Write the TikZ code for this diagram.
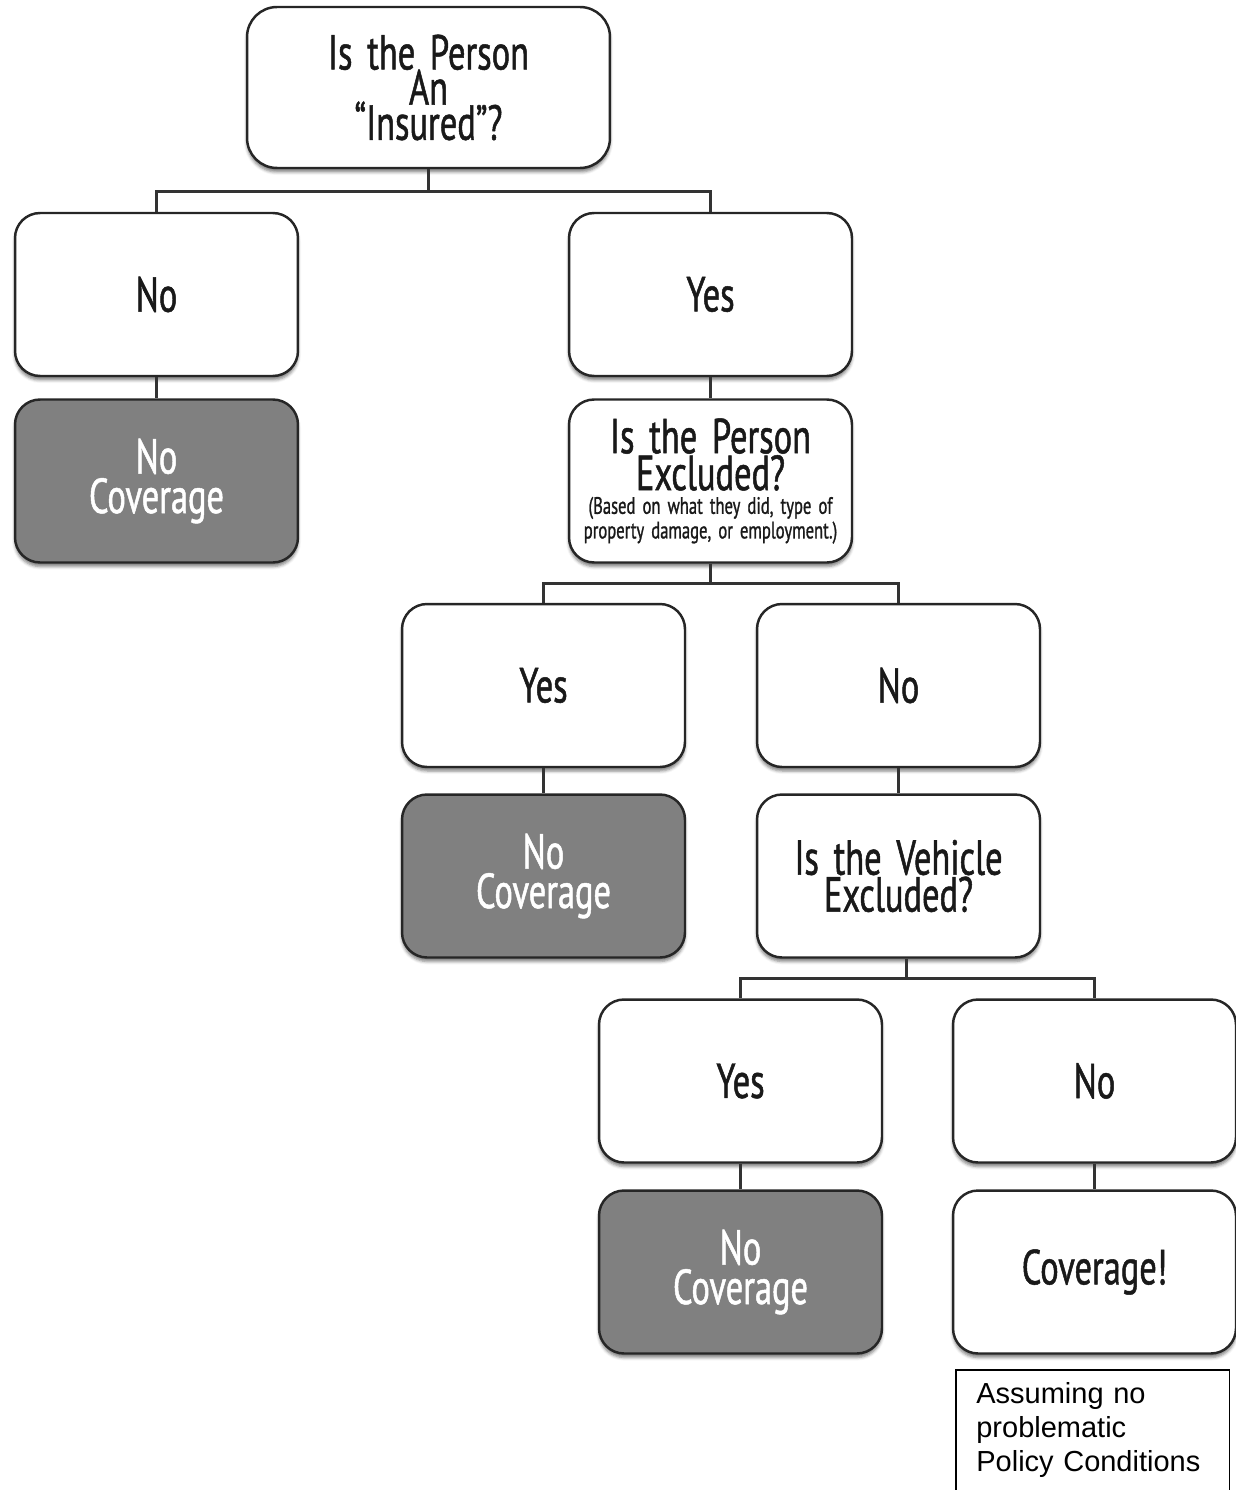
\documentclass[tikz,border=0pt]{standalone}
\usepackage{fontspec}
\usetikzlibrary{calc,shadows.blur}
\newfontfamily\boxfont[FakeStretch=0.7, FakeBold=1, WordSpace=1.6]{PT Sans}
\newfontfamily\notefont{Liberation Sans}
\newcommand\smallprint{\fontsize{13.5}{14}\selectfont}
\newcommand\boxtext[1]{\boxfont\fontsize{28}{#1}\selectfont\lineskiplimit=-20pt\relax}

\tikzset{
  decision/.style={draw=black!85, line width=1.4pt, rounded corners=0.5cm, fill=white,
    minimum width=5.66cm, minimum height=3.26cm, align=center, text=black!90,
    font=\boxtext{21},
    blur shadow={shadow xshift=0pt, shadow yshift=-0.08cm, shadow opacity=50}},
  outcome/.style={decision, fill=black!50, text=white, font=\boxtext{22.5}},
  link/.style={line width=1.6pt, draw=black!80},
  note/.style={anchor=north west, font=\notefont\fontsize{16.5}{19.3}\selectfont, align=left,
    text width=4.66cm, inner xsep=0.4cm, minimum height=2.4cm},
}

\begin{document}
\begin{tikzpicture}[x=0.02cm, y=-0.02cm]
  %%%%% START %%%%%
  \useasboundingbox (0,0) rectangle (1236,1490);

  \node[decision, minimum width=7.26cm, minimum height=3.22cm, rounded corners=0.6cm,
    font=\boxtext{20}] (insured) at (428.5,87.5) {Is the Person\\An\\“Insured”?};

  \node[decision] (no1) at (156.5,294.5) {No};
  \node[decision] (yes1) at (710.5,294.5) {Yes};
  \node[outcome] (nocov1) at (156.5,481) {No\\Coverage};
  \node[decision] (personexcl) at (710.5,481) {Is the Person\\Excluded?\\[-7.5pt]\smallprint (Based on what they did, type of\\[-7pt]\smallprint property damage, or employment.)};

  \node[decision] (yes2) at (543.5,685.5) {Yes};
  \node[decision] (no2) at (898.5,685.5) {No};
  \node[outcome] (nocov2) at (543.5,876) {No\\Coverage};
  \node[decision] (vehexcl) at (898.5,876) {Is the Vehicle\\Excluded?};

  \node[decision] (yes3) at (740.5,1081) {Yes};
  \node[decision] (no3) at (1094.5,1081) {No};
  \node[outcome] (nocov3) at (740.5,1272) {No\\Coverage};
  \node[decision] (cov) at (1094.5,1272) {Coverage!};

  % connectors
  \draw[link] (insured.south) -- ++(0,22) -| (no1.north);
  \draw[link] (insured.south) -- ++(0,22) -| (yes1.north);
  \draw[link] (no1) -- (nocov1);
  \draw[link] (yes1) -- (personexcl);

  \draw[link] (personexcl.south) -- ++(0,20) -| (yes2.north);
  \draw[link] (personexcl.south) -- ++(0,20) -| (no2.north);
  \draw[link] (yes2) -- (nocov2);
  \draw[link] (no2) -- (vehexcl);

  \draw[link] ([xshift=0.16cm]vehexcl.south) -- ++(0,20) -| (yes3.north);
  \draw[link] ([xshift=0.16cm]vehexcl.south) -- ++(0,20) -| (no3.north);
  \draw[link] (yes3) -- (nocov3);
  \draw[link] (no3) -- (cov);

  % side note, open at the bottom
  \node[note] (cond) at (956,1370) {Assuming no\\problematic\\Policy Conditions};
  \draw[black, line width=0.6pt] (cond.south west) -- (cond.north west) -- (cond.north east) -- (cond.south east);
  %%%%% END %%%%%
\end{tikzpicture}
\end{document}
